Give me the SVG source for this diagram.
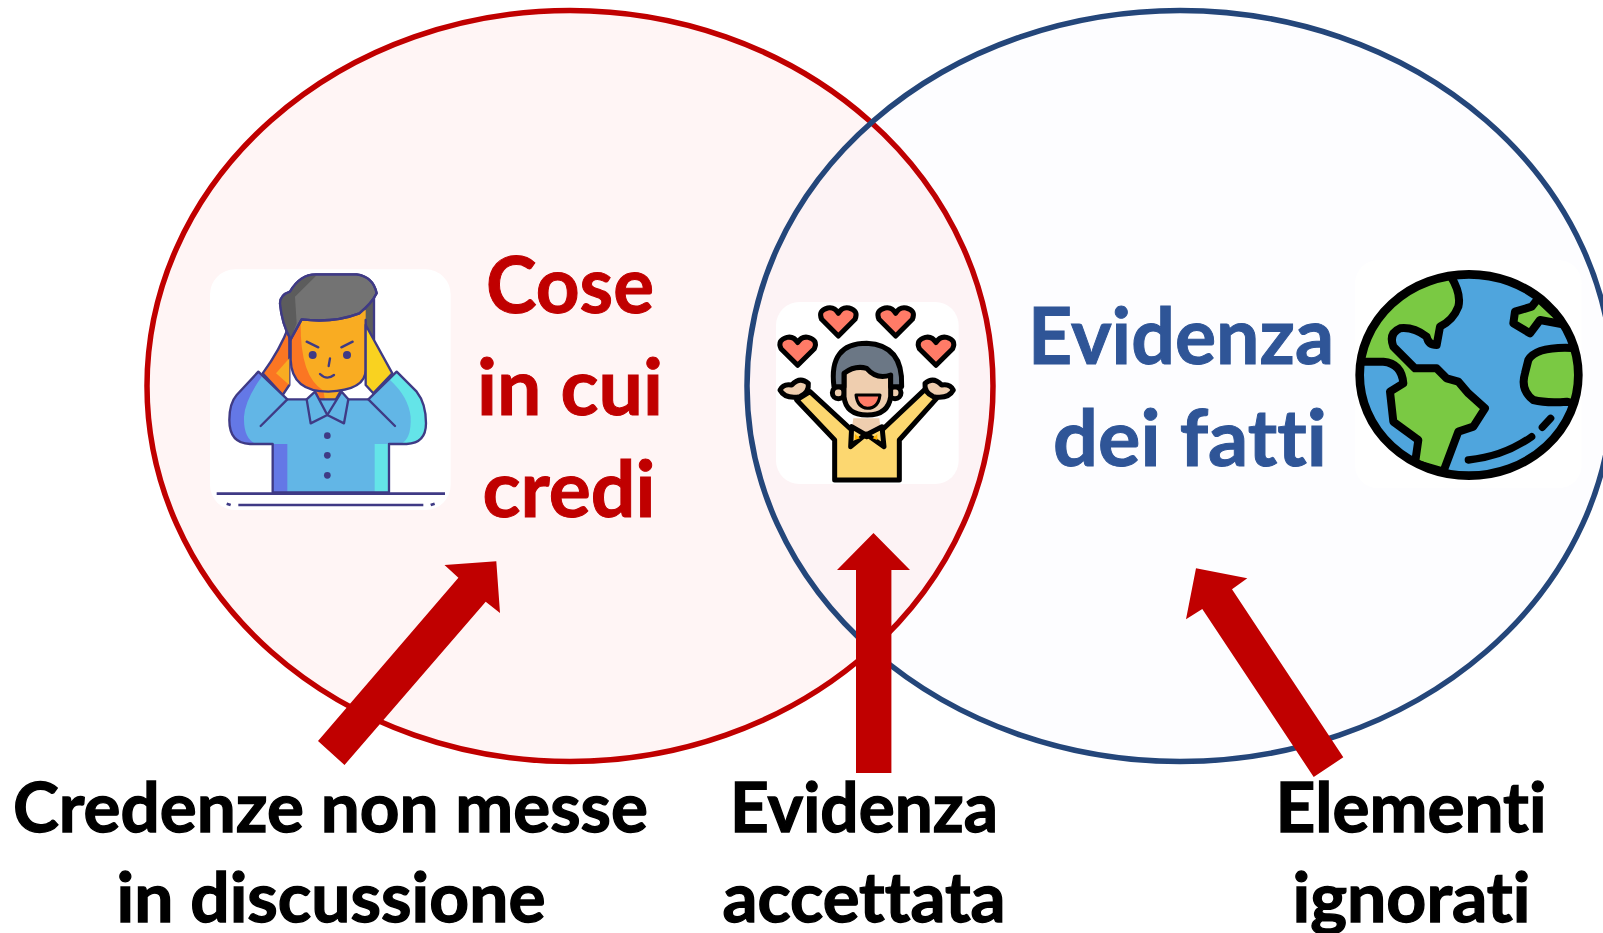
<svg xmlns="http://www.w3.org/2000/svg" width="1603" height="933" viewBox="0 0 1603 933">
<style>
text{font-family:"Lato","Open Sans","Liberation Sans",sans-serif;font-weight:700;font-variant-ligatures:none}
.b{font-size:68px;fill:#000;stroke:#000;stroke-width:1.300}
.r{font-size:78px;fill:#C00000;stroke:#C00000;stroke-width:1}
.u{font-size:78px;fill:#2F5597;stroke:#2F5597;stroke-width:1}
.card{fill:#fff}
.arrow{fill:#C00000}
.m{stroke:#3F3A85;stroke-width:7;stroke-linejoin:round;stroke-linecap:round}
.j{stroke:#000;stroke-width:15;stroke-linejoin:round;stroke-linecap:round}
.h{fill:#FF7B67}
.g{fill:#7AC943;stroke:#000;stroke-width:24;stroke-linejoin:round;stroke-linecap:round}
</style>
<defs>
<path id="heart" d="M0 46L-50-4Q-62-30-32-38Q-11-42 0-22Q11-42 32-38Q62-30 50-4Z"/>
<clipPath id="gc"><ellipse cx="387" cy="375" rx="328" ry="302"/></clipPath>
</defs>
<g id="set-credenze">
<ellipse cx="570" cy="386" rx="423" ry="375.500" fill="#FF0000" fill-opacity=".04" stroke="#C00000" stroke-width="5.500"/>
</g>
<g id="set-fatti">
<ellipse cx="1180" cy="386" rx="433" ry="375.500" fill="#3F7FFF" fill-opacity=".012" stroke="#24467A" stroke-width="5.500"/>
</g>
<g id="icon-man" transform="translate(200,260) scale(.33333)">
<rect class="card" x="30" y="28" width="722" height="722" rx="75"/>
<path d="M478 110L522 100V240L497 200Z" fill="#5C5C5C" class="m"/>
<path d="M345 388L382 464L425 388Z" fill="#F9AC22" class="m"/>
<path d="M345 392L382 462L370 392Z" fill="#FB7623"/>
<path d="M272 220V300Q275 395 385 395Q497 390 497 330V150L300 180Z" fill="#F9AC22"/>
<path d="M275 230V310Q285 390 370 392Q300 350 302 190Z" fill="#FB7623"/>
<path d="M272 220V300Q275 395 385 395Q497 390 497 330V180" fill="none" class="m"/>
<path d="M268 195V375L248 405L188 340Q240 270 268 195Z" fill="#FB7623" class="m"/>
<path d="M228 340L268 295V375Z" fill="#F9AC22"/>
<path d="M497 195L577 340L520 400L497 375Z" fill="#F9D220" class="m"/>
<path d="M240 130Q240 105 270 95Q300 42 350 43H470Q520 50 530 100Q515 130 478 160Q400 190 305 178L272 238Q245 190 240 130Z" fill="#737373" class="m"/>
<path d="M240 130Q240 105 270 95Q300 46 350 46L285 110L290 190L272 236Q245 190 240 130Z" fill="#5C5C5C"/>
<path d="M240 130Q240 105 270 95Q300 42 350 43H470Q520 50 530 100Q515 130 478 160Q400 190 305 178L272 238Q245 190 240 130Z" fill="none" class="m"/>
<path d="M175 335L262 418H505L590 335L650 395Q678 430 678 490Q678 550 620 552H567V697H218V552H150Q88 550 88 480Q88 430 110 405Z" fill="#62B6E6"/>
<path d="M175 335L110 405Q88 430 88 480Q88 550 150 552H218V697H262V552H170Q130 540 132 470Q135 420 185 350Z" fill="#6478E6"/>
<path d="M590 335L650 395Q678 430 678 490Q678 550 620 552H567V697H524V552H600Q635 540 632 470Q625 410 570 360Z" fill="#64E4E8"/>
<path d="M175 335L262 418H505L590 335L650 395Q678 430 678 490Q678 550 620 552H567V697H218V552H150Q88 550 88 480Q88 430 110 405Z" fill="none" class="m"/>
<path d="M262 418L182 498M505 418L585 498" fill="none" class="m"/>
<path d="M320 418L332 490L382 465L432 490L445 418L425 395L382 465L345 395Z" fill="#62B6E6" class="m"/>
<g fill="#3F3A85"><circle cx="338" cy="285" r="12"/><circle cx="441" cy="285" r="12"/><circle cx="382" cy="527" r="10"/><circle cx="382" cy="586" r="10"/><circle cx="382" cy="646" r="10"/></g>
<path d="M320 245L355 262M458 245L424 262M390 295L386 318M360 342Q380 362 402 345" fill="none" class="m"/>
<path d="M50 701H735" fill="none" stroke="#3F3A85" stroke-width="8"/>
<path d="M115 735H670M80 731L92 735M692 735L704 731" fill="none" stroke="#3F3A85" stroke-width="8"/>
</g>
<g id="icon-joy" transform="translate(760,290) scale(.33333)">
<rect class="card" x="48" y="36" width="548" height="546" rx="70"/>
<use href="#heart" x="235" y="92" class="j h"/>
<use href="#heart" x="407" y="92" class="j h"/>
<use href="#heart" x="113" y="180" class="j h"/>
<use href="#heart" x="528" y="180" class="j h"/>
<path d="M150 305L110 330L224 450V570H418V450L530 325L495 298L366 420L320 440L275 420Z" fill="#FCD770" class="j"/>
<path d="M280 385L275 420L318 432L362 420L358 385Z" fill="#EFCEAF"/>
<path d="M275 410L272 470L318 432L372 470L366 410L318 435Z" fill="#FCD770" class="j"/>
<path d="M285 432L300 445L285 450ZM352 432L338 445L352 450Z" fill="#FFB400"/>
<path d="M60 300Q70 280 95 285Q120 258 145 280Q148 308 120 320Q75 328 60 300Z" fill="#EFCEAF" class="j"/>
<path d="M580 300Q570 280 545 285Q520 258 495 280Q492 308 520 320Q565 328 580 300Z" fill="#EFCEAF" class="j"/>
<circle cx="235" cy="308" r="18" fill="#EFCEAF" class="j"/>
<circle cx="405" cy="308" r="18" fill="#EFCEAF" class="j"/>
<path d="M252 230H392V320Q385 375 322 375Q258 375 252 320Z" fill="#EFCEAF" class="j"/>
<path d="M288 315H360Q355 355 322 355Q292 352 288 315Z" fill="#FF7B67" class="j" style="stroke-width:9"/>
<path d="M222 290Q205 160 320 160Q430 165 425 290H392V255Q350 270 320 235Q285 225 252 250V290Z" fill="#6B7785" class="j"/>
</g>
<g id="icon-earth" transform="translate(1340,250) scale(.33333)">
<rect class="card" x="45" y="30" width="680" height="685" rx="70"/>
<ellipse cx="387" cy="375" rx="328" ry="302" fill="#4FA5DD"/>
<g clip-path="url(#gc)">
<path class="g" d="M330 75Q365 130 355 170Q340 210 300 230L290 285Q265 285 260 260Q220 230 180 235Q145 250 160 290L225 355H290L320 385L355 395L385 430L435 475L400 530L355 545L310 665L225 640L235 570L160 515L150 425L190 400Q185 340 130 335L50 335V60Z"/>
<path class="g" d="M525 185L575 170L595 145L680 225L600 210L570 250L520 220Z"/>
<path class="g" d="M565 330Q590 285 720 295V465L680 455Q620 460 580 450Q540 420 555 370Z"/>
</g>
<ellipse cx="387" cy="375" rx="328" ry="302" fill="none" stroke="#000" stroke-width="26"/>
<path d="M385 630Q490 620 575 560M607 532L632 505" fill="none" stroke="#000" stroke-width="22" stroke-linecap="round"/>
</g>
<g id="labels">
<text class="r" x="570" y="313" text-anchor="middle" textLength="168" lengthAdjust="spacingAndGlyphs">Cose</text>
<text class="r" x="570" y="415" text-anchor="middle" textLength="186" lengthAdjust="spacingAndGlyphs">in cui</text>
<text class="r" x="569" y="517" text-anchor="middle" textLength="173" lengthAdjust="spacingAndGlyphs">credi</text>
<text class="u" x="1181" y="364" text-anchor="middle" textLength="306" lengthAdjust="spacingAndGlyphs">Evidenza</text>
<text class="u" x="1190" y="466" text-anchor="middle" textLength="274" lengthAdjust="spacingAndGlyphs">dei fatti</text>
<text class="b" x="330.500" y="832" text-anchor="middle" textLength="635" lengthAdjust="spacingAndGlyphs">Credenze non messe</text>
<text class="b" x="331" y="922" text-anchor="middle" textLength="429" lengthAdjust="spacingAndGlyphs">in discussione</text>
<text class="b" x="864" y="832" text-anchor="middle" textLength="268" lengthAdjust="spacingAndGlyphs">Evidenza</text>
<text class="b" x="864" y="922" text-anchor="middle" textLength="283" lengthAdjust="spacingAndGlyphs">accettata</text>
<text class="b" x="1411" y="832" text-anchor="middle" textLength="271" lengthAdjust="spacingAndGlyphs">Elementi</text>
<text class="b" x="1411.500" y="922" text-anchor="middle" textLength="238" lengthAdjust="spacingAndGlyphs">ignorati</text>
</g>
<g id="connectors">
<polygon class="arrow" points="318,741 344.500,765 485.700,601.700 500,613 496.300,561.300 444.500,565 458.400,577.700"/>
<polygon class="arrow" points="856,773 891.400,773 891.400,570 910,570 873.500,533 837,570 856,570"/>
<polygon class="arrow" points="1343.300,757.300 1313.700,777 1202.300,609 1186,619.300 1196,568.300 1247.300,578.300 1232,589.300"/>
</g>
</svg>
